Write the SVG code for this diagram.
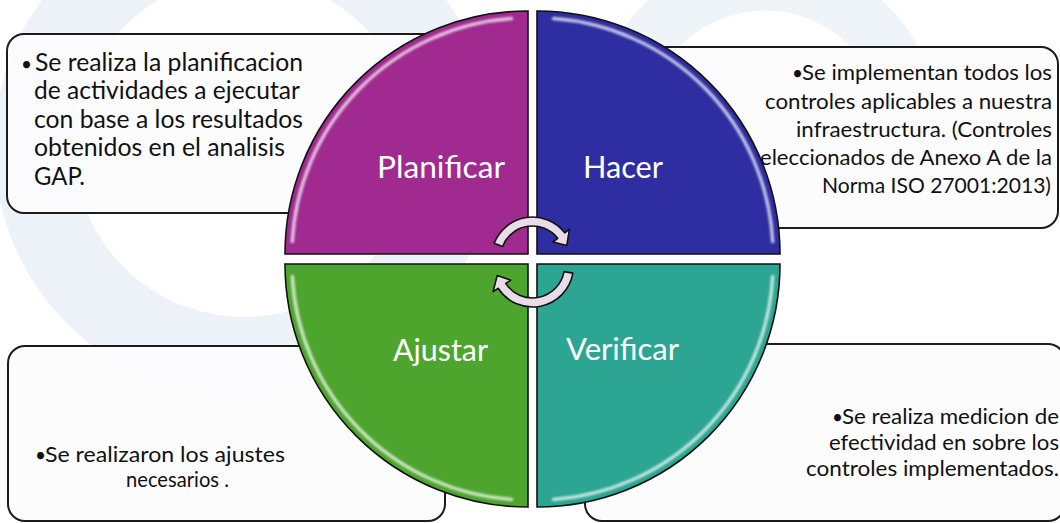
<svg xmlns="http://www.w3.org/2000/svg" width="1060" height="523" viewBox="0 0 1060 523">
  <defs>
    <style>
      .box { fill: #fcfcfd; fill-opacity: 0.92; stroke: #1c1c1c; stroke-width: 2; }
      .body { font-family: "Lato", "Open Sans", "Liberation Sans", sans-serif; fill: #111111; }
      .big { font-size: 24.3px; }
      .small { font-size: 21.6px; }
      .bul { font-size: 19px; }
      .label { font-family: "Lato", "Open Sans", "Liberation Sans", sans-serif; font-size: 30.5px; fill: #ffffff; }
      .quad { stroke: #111111; stroke-width: 1.6; }
      .hl { fill: none; stroke: #ffffff; stroke-opacity: 0.7; stroke-width: 3.5; stroke-linecap: round; filter: url(#soft); }
      .arrow { fill: #e7dce7; stroke: #111111; stroke-width: 1.6; stroke-linejoin: round; }
    </style>
    <filter id="soft" x="-10%" y="-10%" width="120%" height="120%">
      <feGaussianBlur stdDeviation="0.9"/>
    </filter>
    <clipPath id="topClip"><rect x="0" y="0" width="1060" height="52"/></clipPath>
  </defs>

  <rect x="0" y="0" width="1060" height="523" fill="#ffffff"/>

  <!-- faint background watermark -->
  <g id="watermark" fill="none">
    <circle cx="244" cy="147" r="210" stroke="#edf2f8" stroke-width="80"/>
    <circle cx="765" cy="130" r="147" stroke="#eff4f8" stroke-width="55" clip-path="url(#topClip)"/>
  </g>

  <!-- text boxes -->
  <g id="box-planificar">
    <rect class="box" x="7" y="34" width="493" height="179" rx="17"/>
    <text class="body big" y="70.5"><tspan class="bul" x="21">•</tspan><tspan x="35" textLength="268" lengthAdjust="spacingAndGlyphs">Se realiza la planificacion</tspan></text>
    <text class="body big" x="34" y="99" textLength="266" lengthAdjust="spacingAndGlyphs">de actividades a ejecutar</text>
    <text class="body big" x="34" y="127.5" textLength="269" lengthAdjust="spacingAndGlyphs">con base a los resultados</text>
    <text class="body big" x="34" y="156" textLength="251" lengthAdjust="spacingAndGlyphs">obtenidos en el analisis</text>
    <text class="body big" x="34" y="185" textLength="51" lengthAdjust="spacingAndGlyphs">GAP.</text>
  </g>

  <g id="box-hacer">
    <rect class="box" x="570" y="47" width="488" height="181" rx="17"/>
    <text class="body small" y="80"><tspan class="bul" x="792">•</tspan><tspan x="802" textLength="250" lengthAdjust="spacingAndGlyphs">Se implementan todos los</tspan></text>
    <text class="body small" x="765" y="108.5" textLength="287" lengthAdjust="spacingAndGlyphs">controles aplicables a nuestra</text>
    <text class="body small" x="796" y="137" textLength="256" lengthAdjust="spacingAndGlyphs">infraestructura. (Controles</text>
    <text class="body small" x="760" y="165" textLength="292" lengthAdjust="spacingAndGlyphs">eleccionados de Anexo A de la</text>
    <text class="body small" x="822" y="193" textLength="229" lengthAdjust="spacingAndGlyphs">Norma ISO 27001:2013)</text>
  </g>

  <g id="box-ajustar">
    <rect class="box" x="8" y="346" width="437" height="175" rx="17"/>
    <text class="body small" y="462"><tspan class="bul" x="35">•</tspan><tspan x="45" textLength="240" lengthAdjust="spacingAndGlyphs">Se realizaron los ajustes</tspan></text>
    <text class="body small" x="126" y="487" textLength="103" lengthAdjust="spacingAndGlyphs">necesarios .</text>
  </g>

  <g id="box-verificar">
    <rect class="box" x="585" y="344" width="480" height="177" rx="17"/>
    <text class="body small" y="424"><tspan class="bul" x="832">•</tspan><tspan x="842" textLength="217" lengthAdjust="spacingAndGlyphs">Se realiza medicion de</tspan></text>
    <text class="body small" x="829" y="449.5" textLength="230" lengthAdjust="spacingAndGlyphs">efectividad en sobre los</text>
    <text class="body small" x="806" y="476" textLength="253" lengthAdjust="spacingAndGlyphs">controles implementados.</text>
  </g>

  <!-- quadrants -->
  <g id="node-planificar">
    <path class="quad" fill="#a02a90" d="M528,254 L285,254 A243,243 0 0 1 528,11 Z"/>
    <path class="hl" d="M292.3,241.6 A236,236 0 0 1 511.5,18.6"/>
    <path class="hl" d="M521,26 L521,246"/>
    <text class="label" x="377" y="178" textLength="128" lengthAdjust="spacingAndGlyphs">Planificar</text>
  </g>

  <g id="node-hacer">
    <path class="quad" fill="#2e2ea2" d="M537,254 L537,11 A243,243 0 0 1 780,254 Z"/>
    <path class="hl" d="M553.5,18.6 A236,236 0 0 1 772.7,241.6"/>
    <path class="hl" d="M546,247 L768,247"/>
    <text class="label" x="583" y="178" textLength="80" lengthAdjust="spacingAndGlyphs">Hacer</text>
  </g>

  <g id="node-ajustar">
    <path class="quad" fill="#4ea52e" d="M528,264 L528,507 A243,243 0 0 1 285,264 Z"/>
    <path class="hl" d="M511.5,499.4 A236,236 0 0 1 292.3,276.4"/>
    <path class="hl" d="M294,271 L518,271"/>
    <text class="label" x="393" y="361" textLength="95" lengthAdjust="spacingAndGlyphs">Ajustar</text>
  </g>

  <g id="node-verificar">
    <path class="quad" fill="#2ca593" d="M537,264 L780,264 A243,243 0 0 1 537,507 Z"/>
    <path class="hl" d="M772.7,276.4 A236,236 0 0 1 553.5,499.4"/>
    <path class="hl" d="M544,273 L544,497"/>
    <text class="label" x="566" y="360" textLength="113" lengthAdjust="spacingAndGlyphs">Verificar</text>
  </g>

  <!-- cycle arrows -->
  <g id="connectors">
    <path class="arrow" d="M494.2,243.3 A41,41 0 0 1 564.8,232.8 L569.5,229.1 L566.8,245.5 L553,242 L557.7,238.3 A32,32 0 0 0 502.6,246.5 Z"/>
    <path class="arrow" d="M572.9,273.1 A41,41 0 0 1 498.1,288.3 L493.1,291.6 L497.2,275.5 L510.7,280.2 L505.7,283.4 A32,32 0 0 0 564,271.6 Z"/>
  </g>
</svg>
